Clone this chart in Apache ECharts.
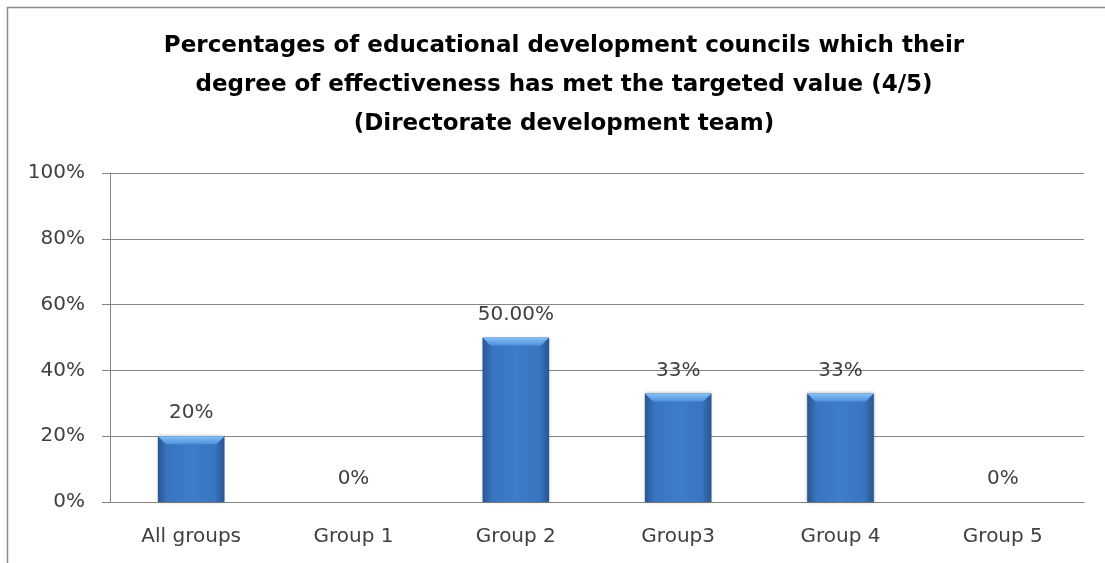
<!DOCTYPE html>
<html>
<head>
<meta charset="utf-8">
<script src="https://cdn.jsdelivr.net/npm/echarts@6/dist/echarts.min.js"></script>
<style>
  html, body { margin: 0; padding: 0; background: #fff; }
  #chart { width: 1105px; height: 563px; }
</style>
</head>
<body>
<div id="chart"></div>
<script>
// Council effectiveness by group
const categories = ['All groups', 'Group 1', 'Group 2', 'Group3', 'Group 4', 'Group 5'];
const percentages = [20, 0, 50, 33, 33, 0];
const labelDecimals = [0, 0, 2, 0, 0, 0];
const yTicks = [0, 20, 40, 60, 80, 100];

const titleText = 'Percentages of educational development councils which their\n' +
  'degree of effectiveness has met the targeted value (4/5)\n' +
  '(Directorate development team)';

const chart = echarts.init(document.getElementById('chart'));
const axisGray = '#868686';
const textGray = '#404040';
const labelFont = 'DejaVu Sans';

const bodyGradient = new echarts.graphic.LinearGradient(0, 0, 1, 0, [
  { offset: 0, color: '#2b5b98' },
  { offset: 0.1, color: '#3873bd' },
  { offset: 0.5, color: '#3d7dca' },
  { offset: 0.9, color: '#3873bd' },
  { offset: 1, color: '#2b5b98' }
]);

chart.setOption({
  animation: false,
  title: {
    text: titleText,
    left: 559,
    top: 22,
    textAlign: 'center',
    textStyle: {
      fontFamily: 'DejaVu Sans',
      fontWeight: 'bold',
      fontSize: 23,
      lineHeight: 39,
      color: '#000'
    }
  },
  graphic: [{
    type: 'rect',
    shape: { x: 7.5, y: 7.5, width: 1200, height: 1000 },
    style: { fill: 'none', stroke: '#8c8c8c', lineWidth: 1.5 },
    silent: true,
    z: -1
  }],
  grid: { left: 110, right: 21, top: 173, bottom: 61 },
  xAxis: {
    type: 'category',
    data: categories,
    axisLine: { lineStyle: { color: axisGray } },
    axisTick: { length: 9, lineStyle: { color: axisGray } },
    axisLabel: { color: textGray, fontFamily: labelFont, fontSize: 20, margin: 25 }
  },
  yAxis: {
    type: 'value',
    min: yTicks[0],
    max: yTicks[yTicks.length - 1],
    interval: yTicks[1] - yTicks[0],
    axisLine: { show: true, lineStyle: { color: axisGray } },
    axisTick: { show: true, length: 8, lineStyle: { color: axisGray } },
    splitLine: { lineStyle: { color: axisGray } },
    axisLabel: {
      color: textGray, fontFamily: labelFont, fontSize: 20, margin: 25,
      formatter: v => v + '%'
    }
  },
  series: [{
    type: 'bar',
    data: percentages,
    barWidth: '41%',
    itemStyle: {
      color: bodyGradient,
      shadowBlur: 3,
      shadowColor: 'rgba(0,0,0,0.35)'
    },
    label: {
      show: true,
      position: 'top',
      distance: 13,
      color: textGray,
      fontFamily: labelFont,
      fontSize: 20,
      formatter: p => p.value.toFixed(labelDecimals[p.dataIndex]) + '%'
    },
    z: 2
  }, {
    // bevelled highlight along the top of each bar
    type: 'custom',
    silent: true,
    z: 3,
    data: percentages.map((v, i) => [i, v]),
    renderItem: (params, api) => {
      const v = api.value(1);
      if (!v) return null;
      const top = api.coord([api.value(0), v]);
      const base = api.coord([api.value(0), 0]);
      const w = api.size([1, 0])[0] * 0.41;
      const x0 = top[0] - w / 2, x1 = top[0] + w / 2;
      const y0 = top[1], y1 = base[1];
      const b = 8;
      return {
        type: 'group',
        children: [{
          type: 'polygon',
          shape: { points: [[x0, y0], [x1, y0], [x1 - b, y0 + b], [x0 + b, y0 + b]] },
          style: {
            fill: new echarts.graphic.LinearGradient(0, 0, 0, 1, [
              { offset: 0, color: '#86c2f6' },
              { offset: 1, color: '#4f90dc' }
            ])
          }
        }, {
          type: 'polygon',
          shape: { points: [[x0, y0], [x0 + b, y0 + b], [x0 + b, y1], [x0, y1]] },
          style: { fill: 'rgba(30,60,110,0.12)' }
        }, {
          type: 'polygon',
          shape: { points: [[x1, y0], [x1 - b, y0 + b], [x1 - b, y1], [x1, y1]] },
          style: { fill: 'rgba(30,60,110,0.16)' }
        }]
      };
    }
  }]
});
</script>
</body>
</html>
